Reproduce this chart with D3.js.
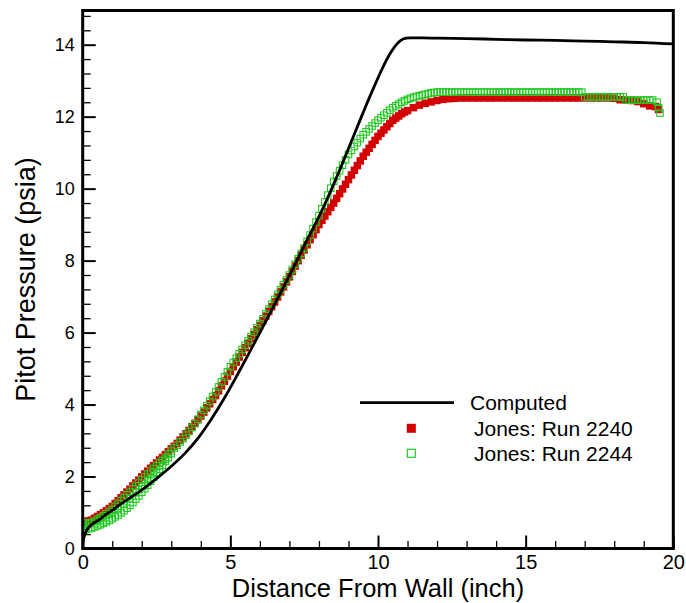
<!DOCTYPE html>
<html>
<head>
<meta charset="utf-8">
<script src="https://cdn.jsdelivr.net/npm/d3@7/dist/d3.min.js"></script>
<style>
  html, body { margin: 0; padding: 0; background: #fff; }
  svg { display: block; font-family: "Liberation Sans", Arial, Helvetica, sans-serif; }
</style>
</head>
<body>
<svg id="chart" width="686" height="603"></svg>
<script>
// ---------------- data ----------------
const xTickLabels = [0, 5, 10, 15, 20];
const yTickLabels = [0, 2, 4, 6, 8, 10, 12, 14];
const xMinorTicks = [1, 2, 3, 4, 6, 7, 8, 9, 11, 12, 13, 14, 16, 17, 18, 19];
const yMinorTicks = [0.4, 0.8, 1.2, 1.6, 2.4, 2.8, 3.2, 3.6, 4.4, 4.8, 5.2, 5.6, 6.4, 6.8, 7.2, 7.6,
  8.4, 8.8, 9.2, 9.6, 10.4, 10.8, 11.2, 11.6, 12.4, 12.8, 13.2, 13.6, 14.4, 14.8];

const seriesNames = ["Computed", "Jones: Run 2240", "Jones: Run 2244"];

// Computed pitot pressure profile [distance (inch), pressure (psia)]
const computed = [[0,0],[0.02,0.22],[0.05,0.33],[0.1,0.45],[0.2,0.58],[0.35,0.69],[0.54,0.79],
  [0.75,0.92],[1.0,1.06],[1.25,1.21],[1.55,1.38],[1.85,1.54],[2.12,1.7],[2.57,1.99],[3.02,2.3],
  [3.47,2.65],[3.92,3.08],[4.32,3.55],[4.8,4.18],[5.34,4.98],[5.9,5.84],[6.46,6.72],[7.03,7.63],
  [7.59,8.56],[8.15,9.48],[8.72,10.55],[9.28,11.68],[9.84,12.78],[10.4,13.74],[10.6,13.98],
  [10.74,14.1],[10.85,14.16],[10.95,14.18],[11.1,14.19],[11.5,14.19],[12,14.18],[13,14.17],
  [14,14.15],[15,14.13],[16,14.12],[17,14.1],[18,14.08],[19,14.06],[20,14.02]];

// Jones: Run 2240 (filled red squares)
const run2240 = [[0.03,0.74],[0.1,0.75],[0.2,0.77],[0.3,0.79],[0.4,0.84],[0.5,0.89],[0.6,0.94],
  [0.7,0.99],[0.8,1.05],[0.9,1.11],[1.0,1.17],[1.1,1.25],[1.2,1.33],[1.3,1.41],[1.4,1.49],
  [1.5,1.57],[1.6,1.65],[1.7,1.74],[1.8,1.82],[1.9,1.9],[2.0,1.99],[2.1,2.07],[2.2,2.15],
  [2.3,2.23],[2.4,2.3],[2.5,2.38],[2.6,2.46],[2.7,2.53],[2.8,2.61],[2.9,2.69],[3.0,2.77],
  [3.1,2.84],[3.2,2.92],[3.3,3.01],[3.4,3.1],[3.5,3.19],[3.6,3.28],[3.7,3.38],[3.8,3.48],
  [3.9,3.58],[4.0,3.68],[4.1,3.79],[4.2,3.91],[4.3,4.02],[4.4,4.14],[4.5,4.25],[4.6,4.38],
  [4.7,4.52],[4.8,4.65],[4.9,4.79],[5.0,4.92],[5.1,5.05],[5.2,5.18],[5.3,5.32],[5.4,5.45],
  [5.5,5.58],[5.6,5.7],[5.7,5.83],[5.8,5.95],[5.9,6.08],[6.0,6.2],[6.1,6.33],[6.2,6.46],
  [6.3,6.59],[6.4,6.72],[6.5,6.85],[6.6,6.99],[6.7,7.13],[6.8,7.27],[6.9,7.41],[7.0,7.55],
  [7.1,7.7],[7.2,7.85],[7.3,8.0],[7.4,8.15],[7.5,8.3],[7.6,8.44],[7.7,8.58],[7.8,8.72],
  [7.9,8.86],[8.0,9.0],[8.1,9.12],[8.2,9.24],[8.3,9.36],[8.4,9.48],[8.5,9.6],[8.6,9.73],
  [8.7,9.86],[8.8,9.99],[8.9,10.12],[9.0,10.25],[9.1,10.38],[9.2,10.51],[9.3,10.64],[9.4,10.77],
  [9.5,10.9],[9.6,11.01],[9.7,11.12],[9.8,11.23],[9.9,11.34],[10.0,11.45],[10.1,11.54],
  [10.2,11.63],[10.3,11.72],[10.4,11.81],[10.5,11.9],[10.6,11.96],[10.7,12.02],[10.8,12.08],
  [10.9,12.13],[11.0,12.17],[11.2,12.25],[11.4,12.32],[11.6,12.37],[11.8,12.41],[12.0,12.45],
  [12.2,12.48],[12.4,12.5],[12.6,12.51],[12.8,12.52],[13.0,12.52],[13.2,12.52],[13.4,12.52],
  [13.6,12.52],[13.8,12.52],[14.0,12.52],[14.2,12.52],[14.4,12.52],[14.6,12.52],[14.8,12.52],
  [15.0,12.52],[15.2,12.52],[15.4,12.52],[15.6,12.52],[15.8,12.52],[16.0,12.52],[16.2,12.52],
  [16.4,12.52],[16.6,12.52],[16.8,12.52],[17.0,12.52],[17.2,12.52],[17.4,12.52],[17.6,12.52],
  [17.8,12.52],[18.0,12.51],[18.2,12.47],[18.4,12.46],[18.6,12.45],[18.8,12.42],[19.0,12.36],
  [19.2,12.3],[19.4,12.28],[19.5,12.2]];

// Jones: Run 2244 (open green squares)
const run2244 = [[0.03,0.5],[0.03,0.57],[0.03,0.64],[0.03,0.71],[0.1,0.53],[0.1,0.62],[0.1,0.7],
  // lower part of the band near the wall
  [0.2,0.55],[0.3,0.57],[0.4,0.6],[0.5,0.63],[0.6,0.66],[0.7,0.7],[0.8,0.74],[0.9,0.78],
  [1.0,0.83],[1.1,0.88],[1.2,0.93],[1.3,0.99],[1.4,1.05],[1.5,1.12],[1.6,1.2],[1.7,1.28],
  [1.8,1.37],[1.9,1.46],[2.0,1.56],[2.1,1.66],[2.2,1.76],[2.3,1.87],[2.4,1.98],[2.5,2.09],
  [2.6,2.2],[2.7,2.31],[2.8,2.42],[2.9,2.53],[3.0,2.64],
  // middle of the band
  [0.4,0.69],[0.6,0.77],[0.8,0.86],[1.0,0.97],[1.2,1.1],[1.4,1.24],[1.6,1.4],[1.8,1.56],
  [2.0,1.74],[2.2,1.92],[2.4,2.11],[2.6,2.3],[2.8,2.48],
  // upper part of the band and the rest of the traverse
  [0.2,0.7],[0.3,0.72],[0.4,0.76],[0.5,0.81],[0.6,0.86],[0.7,0.91],[0.8,0.97],[0.9,1.03],
  [1.0,1.09],[1.1,1.17],[1.2,1.25],[1.3,1.33],[1.4,1.41],[1.5,1.49],[1.6,1.57],[1.7,1.66],
  [1.8,1.74],[1.9,1.82],[2.0,1.91],[2.1,1.99],[2.2,2.07],[2.3,2.15],[2.4,2.22],[2.5,2.3],
  [2.6,2.38],[2.7,2.45],[2.8,2.53],[2.9,2.62],[3.0,2.71],[3.1,2.79],[3.2,2.87],[3.3,2.96],
  [3.4,3.05],[3.5,3.15],[3.6,3.25],[3.7,3.36],[3.8,3.47],[3.9,3.59],[4.0,3.72],[4.1,3.84],
  [4.2,3.97],[4.3,4.09],[4.4,4.22],[4.5,4.35],[4.6,4.49],[4.7,4.63],[4.8,4.77],[4.9,4.91],
  [5.0,5.05],[5.1,5.17],[5.2,5.29],[5.3,5.41],[5.4,5.53],[5.5,5.65],[5.6,5.77],[5.7,5.89],
  [5.8,6.01],[5.9,6.13],[6.0,6.25],[6.1,6.38],[6.2,6.52],[6.3,6.65],[6.4,6.79],[6.5,6.92],
  [6.6,7.06],[6.7,7.19],[6.8,7.33],[6.9,7.46],[7.0,7.6],[7.1,7.75],[7.2,7.9],[7.3,8.05],
  [7.4,8.2],[7.5,8.35],[7.6,8.53],[7.7,8.71],[7.8,8.89],[7.9,9.07],[8.0,9.25],[8.1,9.44],
  [8.2,9.63],[8.3,9.82],[8.4,10.01],[8.5,10.2],[8.6,10.35],[8.7,10.5],[8.8,10.65],[8.9,10.8],
  [9.0,10.95],[9.1,11.06],[9.2,11.17],[9.3,11.28],[9.4,11.39],[9.5,11.5],[9.6,11.58],
  [9.7,11.66],[9.8,11.74],[9.9,11.82],[10.0,11.9],[10.1,11.97],[10.2,12.04],[10.3,12.11],
  [10.4,12.18],[10.5,12.25],[10.6,12.3],[10.7,12.35],[10.8,12.4],[10.9,12.44],[11.0,12.48],
  [11.1,12.51],[11.2,12.54],[11.3,12.56],[11.4,12.58],[11.5,12.6],[11.6,12.62],[11.7,12.64],
  [11.8,12.66],[11.9,12.67],[12.0,12.68],[12.1,12.68],[12.2,12.68],[12.3,12.68],[12.4,12.68],
  [12.5,12.68],[12.6,12.68],[12.7,12.68],[12.8,12.68],[12.9,12.68],[13.0,12.68],[13.1,12.68],
  [13.2,12.68],[13.3,12.68],[13.4,12.68],[13.5,12.68],[13.6,12.68],[13.7,12.68],[13.8,12.68],
  [13.9,12.68],[14.0,12.68],[14.1,12.68],[14.2,12.68],[14.3,12.68],[14.4,12.68],[14.5,12.68],
  [14.6,12.68],[14.7,12.68],[14.8,12.68],[14.9,12.68],[15.0,12.68],[15.1,12.68],[15.2,12.68],
  [15.3,12.68],[15.4,12.68],[15.5,12.68],[15.6,12.68],[15.7,12.68],[15.8,12.68],[15.9,12.68],
  [16.0,12.68],[16.1,12.68],[16.2,12.68],[16.3,12.68],[16.4,12.68],[16.5,12.68],[16.6,12.68],
  [16.7,12.68],[16.8,12.68],[16.9,12.68],[17.0,12.55],[17.1,12.55],[17.2,12.55],[17.3,12.55],
  [17.4,12.55],[17.5,12.55],[17.6,12.55],[17.7,12.55],[17.8,12.55],[17.9,12.55],[18.0,12.55],
  [18.1,12.55],[18.2,12.55],[18.3,12.55],[18.4,12.46],[18.5,12.46],[18.6,12.46],[18.7,12.46],
  [18.8,12.46],[18.9,12.46],[19.0,12.46],[19.1,12.46],[19.2,12.46],[19.3,12.46],[19.45,12.4],
  [19.5,12.25],[19.55,12.1]];

// ---------------- layout ----------------
const svg = d3.select("#chart");
const W = 686, H = 603;
const plot = { left: 82.7, right: 673.3, top: 10.5, bottom: 548.5 };

svg.append("rect").attr("width", W).attr("height", H).attr("fill", "#fff");

const x = d3.scaleLinear().domain([0, 20]).range([plot.left, plot.right]);
const y = d3.scaleLinear().domain([0, 14.95]).range([plot.bottom, plot.top]);

svg.append("defs").append("clipPath").attr("id", "plotClip")
  .append("rect")
  .attr("x", plot.left).attr("y", plot.top)
  .attr("width", plot.right - plot.left).attr("height", plot.bottom - plot.top);

// ---------------- axes (ticks inward) ----------------
const gxMinor = svg.append("g").attr("transform", `translate(0,${plot.bottom})`)
  .call(d3.axisBottom(x).tickValues(xMinorTicks).tickSize(-7.5).tickFormat(""));
gxMinor.select(".domain").remove();
gxMinor.selectAll(".tick line").attr("stroke", "#000").attr("stroke-width", 1.3);

const gyMinor = svg.append("g").attr("transform", `translate(${plot.left},0)`)
  .call(d3.axisLeft(y).tickValues(yMinorTicks).tickSize(-8).tickFormat(""));
gyMinor.select(".domain").remove();
gyMinor.selectAll(".tick line").attr("stroke", "#000").attr("stroke-width", 1.3);

const gx = svg.append("g").attr("transform", `translate(0,${plot.bottom})`)
  .call(d3.axisBottom(x).tickValues(xTickLabels).tickSize(-13).tickPadding(6.5).tickFormat(d3.format("d")));
gx.select(".domain").remove();
gx.selectAll(".tick line").attr("stroke", "#000").attr("stroke-width", 2);
gx.selectAll(".tick text").attr("fill", "#000")
  .style("font-family", '"Liberation Sans", Arial, sans-serif').style("font-size", "20px");

const gy = svg.append("g").attr("transform", `translate(${plot.left},0)`)
  .call(d3.axisLeft(y).tickValues(yTickLabels).tickSize(-13).tickPadding(8).tickFormat(d3.format("d")));
gy.select(".domain").remove();
gy.selectAll(".tick line").attr("stroke", "#000").attr("stroke-width", 2);
gy.selectAll(".tick text").attr("fill", "#000")
  .style("font-family", '"Liberation Sans", Arial, sans-serif').style("font-size", "18px");

// ---------------- data marks ----------------
const S = 7.5;
const marks = svg.append("g").attr("clip-path", "url(#plotClip)");

marks.append("g").selectAll("rect").data(run2240).join("rect")
  .attr("x", d => x(d[0]) - S / 2).attr("y", d => y(d[1]) - S / 2)
  .attr("width", S).attr("height", S)
  .attr("fill", "#d20000");

marks.append("g").selectAll("rect").data(run2244).join("rect")
  .attr("x", d => x(d[0]) - S / 2 + 0.5).attr("y", d => y(d[1]) - S / 2 + 0.5)
  .attr("width", S - 1).attr("height", S - 1)
  .attr("fill", "none").attr("stroke", "#22c822").attr("stroke-width", 1.1);

const line = d3.line().x(d => x(d[0])).y(d => y(d[1])).curve(d3.curveMonotoneX);
marks.append("path").datum(computed)
  .attr("d", line).attr("fill", "none").attr("stroke", "#000")
  .attr("stroke-width", 2.8).attr("stroke-linejoin", "round");

// ---------------- frame ----------------
svg.append("rect")
  .attr("x", plot.left).attr("y", plot.top)
  .attr("width", plot.right - plot.left).attr("height", plot.bottom - plot.top)
  .attr("fill", "none").attr("stroke", "#000").attr("stroke-width", 3);

// ---------------- axis titles ----------------
svg.append("text")
  .attr("x", (plot.left + plot.right) / 2).attr("y", 596.5)
  .attr("text-anchor", "middle").attr("font-size", 25.5).attr("fill", "#000")
  .text("Distance From Wall (inch)");

svg.append("text")
  .attr("transform", `translate(35,${(plot.top + plot.bottom) / 2}) rotate(-90)`)
  .attr("text-anchor", "middle").attr("font-size", 27).attr("fill", "#000")
  .text("Pitot Pressure (psia)");

// ---------------- legend ----------------
const lg = svg.append("g");
lg.append("line").attr("x1", 360).attr("x2", 454).attr("y1", 402.7).attr("y2", 402.7)
  .attr("stroke", "#000").attr("stroke-width", 2.7);
lg.append("text").attr("x", 470).attr("y", 410).attr("font-size", 21).text(seriesNames[0]);

lg.append("rect").attr("x", 411.3 - 4.5).attr("y", 428.3 - 4.5).attr("width", 9).attr("height", 9)
  .attr("fill", "#d20000");
lg.append("text").attr("x", 474).attr("y", 436).attr("font-size", 21).text(seriesNames[1]);

lg.append("rect").attr("x", 411.3 - 4).attr("y", 453.3 - 4).attr("width", 8).attr("height", 8)
  .attr("fill", "none").attr("stroke", "#22c822").attr("stroke-width", 1.2);
lg.append("text").attr("x", 474).attr("y", 460.5).attr("font-size", 21).text(seriesNames[2]);
</script>
</body>
</html>
